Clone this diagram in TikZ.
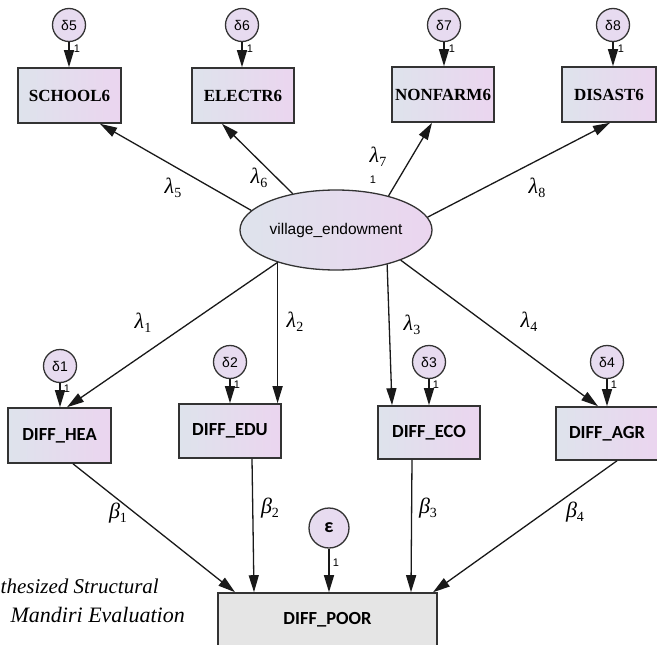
\RequirePackage{fix-cm}
\documentclass[tikz,border=0pt]{standalone}
\usepackage{fontspec}
\setmainfont{Liberation Serif}
\newfontfamily\boxfont{Liberation Serif}
\newfontfamily\calfont{Carlito}
\newfontfamily\arialfont{Liberation Sans}
\usetikzlibrary{arrows.meta,shapes.geometric}
\definecolor{gl}{HTML}{DEE3EC}
\definecolor{gr}{HTML}{EBD5EF}
\definecolor{cfill}{HTML}{E8DAF0}
\definecolor{poorfill}{HTML}{E5E5E5}
\definecolor{edgec}{HTML}{333333}
\newcommand\grk[2]{{\itshape #1}\raisebox{-4.5pt}{\fontsize{14}{15}\selectfont #2}}
\tikzset{
  obs/.style={draw=edgec, line width=1.6pt, left color=gl, right color=gr,
    minimum width=102pt, minimum height=55pt, inner sep=0pt,
    font=\boxfont\bfseries\fontsize{17}{19}\selectfont},
  obstwo/.style={obs, font=\calfont\bfseries\fontsize{18.5}{20}\selectfont},
  errc/.style={circle, draw=edgec, line width=1.3pt, left color=cfill!80!gl, right color=cfill,
    minimum size=33pt, inner sep=0pt, font=\arialfont\fontsize{14}{16}\selectfont},
  arr/.style={-{Triangle[length=17pt,width=10pt]}, line width=1.3pt, draw=black!90},
  lab/.style={font=\fontsize{22}{24}\selectfont, inner sep=0pt},
  onelab/.style={font=\arialfont\fontsize{11}{12}\selectfont, inner sep=0pt},
}
\begin{document}
\begin{tikzpicture}[x=1pt,y=-1pt]
\useasboundingbox (0,0) rectangle (657,645);
\clip (0,0) rectangle (657,645);
% top observed
\node[obs, minimum width=103pt] (school) at (69.5,95.5) {SCHOOL6};
\node[obs] (electr) at (243,95.5) {ELECTR6};
\node[obs] (nonfarm) at (443,94.5) {NONFARM6};
\node[obs, minimum width=94pt] (disast) at (609,94.5) {DISAST6};
% top errors
\node[errc] (d5) at (69,25) {δ5};
\node[errc] (d6) at (242,25) {δ6};
\node[errc] (d7) at (444,25) {δ7};
\node[errc] (d8) at (613,25) {δ8};
\draw[arr] (d5) -- (d5 |- school.north);
\draw[arr] (d6) -- (d6 |- electr.north);
\draw[arr] (d7) -- (d7 |- nonfarm.north);
\draw[arr] (d8) -- (d8 |- disast.north);
\node[onelab] (o5) at (77,49) {1};
\node[onelab] (o6) at (250,49) {1};
\node[onelab] (o7) at (452,49) {1};
\node[onelab] (o8) at (621,49) {1};
% latent
\node[ellipse, draw=edgec, line width=1.3pt, left color=gl, right color=gr,
  minimum width=192pt, minimum height=80pt, inner sep=0pt,
  font=\arialfont\fontsize{15.5}{17}\selectfont] (lat) at (336,230) {village\_endowment};
% bottom observed
\node[obstwo, minimum width=103pt] (hea) at (59.5,435.5) {DIFF\_HEA};
\node[obstwo, minimum height=54pt] (edu) at (230,431) {DIFF\_EDU};
\node[obstwo, minimum height=53pt] (eco) at (429,432.5) {DIFF\_ECO};
\node[obstwo, minimum height=53pt] (agr) at (607,433.5) {DIFF\_AGR};
\node[obstwo, draw=edgec, shading=axis, left color=poorfill, right color=poorfill,
  minimum width=219pt, minimum height=54pt] (poor) at (327.5,620) {DIFF\_POOR};
% bottom errors
\node[errc] (d1) at (60,366) {δ1};
\node[errc] (d2) at (230,362) {δ2};
\node[errc] (d3) at (429,362) {δ3};
\node[errc] (d4) at (607,362) {δ4};
\draw[arr] (d1) -- (d1 |- hea.north);
\draw[arr] (d2) -- (d2 |- edu.north);
\draw[arr] (d3) -- (d3 |- eco.north);
\draw[arr] (d4) -- (d4 |- agr.north);
\node[onelab] (o1) at (67,389) {1};
\node[onelab] (o2) at (237,385) {1};
\node[onelab] (o3) at (436,385) {1};
\node[onelab] (o4) at (614,385) {1};
\node[errc, minimum size=40pt, font=\calfont\bfseries\fontsize{20}{22}\selectfont] (eps) at (329,528) {ε};
% loadings
\draw[arr] (lat.167) -- ([xshift=30.5pt]school.south);
\draw[arr] (lat.140) -- ([xshift=-21pt]electr.south);
\draw[arr] (lat.33) -- ([xshift=-11pt]nonfarm.south);
\draw[arr] (lat.8) -- ([xshift=1pt]disast.south);
\draw[arr] (lat.209) -- ([xshift=7.5pt]hea.north);
\draw[arr] (lat.209) -- (lat.209 |- edu.north);
\draw[arr] (lat.-34) -- ([xshift=-37pt]eco.north);
\draw[arr] (lat.-25) -- ([xshift=-9pt]agr.north);
% paths to poor
\draw[arr] ([xshift=13.5pt]hea.south) -- ([xshift=-92.5pt]poor.north);
\draw[arr] ([xshift=22pt]edu.south) -- ([xshift=-73.5pt]poor.north);
\draw[arr] (eps) -- (eps |- poor.north);
\draw[arr] ([xshift=-17pt]eco.south) -- ([xshift=83.5pt]poor.north);
\draw[arr] ([xshift=10pt]agr.south) -- ([xshift=105.5pt]poor.north);
\node[onelab] (oe) at (336,563) {1};
% labels
\node[lab] (l5) at (173,188) {\grk{λ}{5}};
\node[lab] (l6) at (259,178) {\grk{λ}{6}};
\node[lab] (l7) at (378,157) {\grk{λ}{7}};
\node[onelab] (o0) at (373,180) {1};
\node[lab] (l8) at (537,188) {\grk{λ}{8}};
\node[lab] (l1) at (143,323) {\grk{λ}{1}};
\node[lab] (l2) at (295,322) {\grk{λ}{2}};
\node[lab] (l3) at (412,325) {\grk{λ}{3}};
\node[lab] (l4) at (529,322) {\grk{λ}{4}};
\node[lab] (b1) at (118,513) {\grk{β}{1}};
\node[lab] (b2) at (270,508) {\grk{β}{2}};
\node[lab] (b3) at (428,508) {\grk{β}{3}};
\node[lab] (b4) at (575,512) {\grk{β}{4}};
% caption fragments
\node[anchor=base west, inner sep=0pt, font=\itshape\fontsize{21}{23}\selectfont] (cap1) at (0.5,593) {thesized Structural};
\node[anchor=base east, inner sep=0pt, font=\itshape\fontsize{22}{24}\selectfont] (cap2) at (185,622) {Mandiri Evaluation};
\end{tikzpicture}
\end{document}
